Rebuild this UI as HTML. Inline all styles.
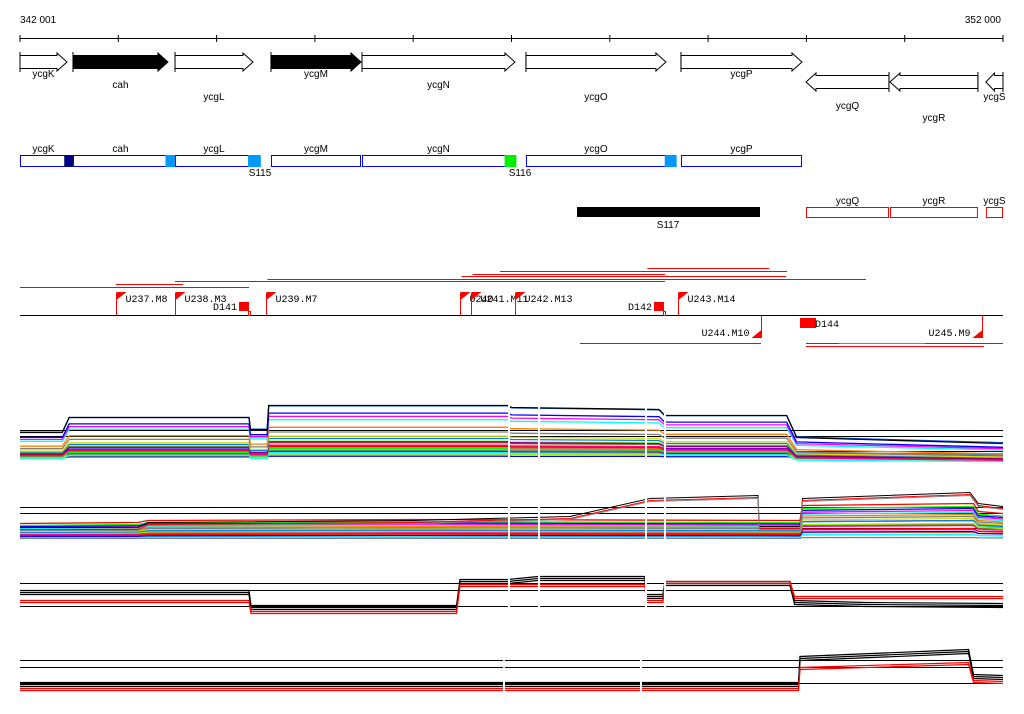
<!DOCTYPE html>
<html><head><meta charset="utf-8"><style>
html,body{margin:0;padding:0;background:#fff;width:1024px;height:714px;overflow:hidden}
svg{display:block;font-family:"Liberation Sans",sans-serif;font-size:10px}
</style></head><body>
<svg id="c" width="1024" height="714" viewBox="0 0 1024 714">
<g id="ruler">
<line x1="20" y1="38.5" x2="1003" y2="38.5" stroke="#000"/>
<text x="20" y="23">342 001</text>
<text x="1001" y="23" text-anchor="end">352 000</text>
</g>
<g id="genes"></g>
<g id="boxes"></g>
<g id="segs"></g>
<g id="flags"></g>
<g id="tracks"></g>
</svg>
<script>
const START = 342001, SPAN = 10000;
const geneNames = ['ycgK','cah','ycgL','ycgM','ycgN','ycgO','ycgP','ycgQ','ycgR','ycgS'];
const geneStarts = [0,539,1577,2553,3479,5147,6724,7996,8850,9826];
const geneEnds = [478,1505,2370,3469,5035,6571,7955,8840,9745,10000];
const geneStrand = [1,1,1,1,1,1,1,-1,-1,-1];
const geneFilled = [0,1,0,1,0,0,0,0,0,0];
const geneLabelY = [77,88,100,77,88,100,77,109,121,100];
const blueBoxes = [[0,478],[539,1505],[1577,2370],[2553,3469],[3479,5035],[5147,6571],[6724,7955]];
const redBoxes = [[7996,8840],[8850,9745],[9826,10000]];
const markers = [[450,539,'#000080'],[1480,1577,'#0099ff'],[2320,2450,'#0099ff'],[4930,5050,'#00ee00'],[6560,6680,'#0099ff']];
const segLines = [[6382,7620,268],[4883,7803,271],[4604,6561,274],[4492,7793,276],[2517,8606,279],[1577,6561,281],[977,1659,284],[0,2330,287],[5696,7537,343],[7996,10000,343],[7996,9806,346]];
const fwdFlags = [[977,'U237.M8'],[1577,'U238.M3'],[2503,'U239.M7'],[4476,'U240'],[4588,'U241.M11'],[5035,'U242.M13'],[6693,'U243.M14']];
const revFlags = [[7539,'U244.M10'],[9785,'U245.M9']];
const t1Top = [[0,19],[430,19],[500,34],[2330,34],[2345,22],[2515,22],[2530,46],[4960,46],[5000,44],[6500,42],[6560,36],[7800,36],[7900,14],[10000,8]];
const t1Factors = [1,0.97,0.9,0.85,0.8,0.7,0.62,0.55,0.5,0.45,0.42,0.4,0.36,0.33,0.3,0.28,0.26,0.24,0.22,0.2,0.18,0.16,0.15,0.14,0.12,0.1,0.08,0.06,0.05,0.03];
const t1Offsets = [0,1,-3,-4,-5,-8,-9,-10,-10,-11,-9,-12,-8,-10,-11,-7,-9,-12,-6,-8,-10,-4,-7,-9,-5,-6,-3,-5,-7,-4];
const t2Top = [[0,1],[1200,1],[1300,6],[4000,8],[5595,12],[6409,30],[7508,33],[7520,2],[7935,2],[7960,30],[9664,36],[9750,25],[10000,22]];
const t2Bulk = [[0,0],[1200,1],[1300,3],[4000,4],[7935,3],[7960,18],[9700,20],[9750,12],[10000,10]];
const t2Factors = [1,0.95,0.9,0.85,0.8,0.75,0.7,0.65,0.6,0.55,0.5,0.45,0.4,0.35,0.3,0.25,0.2,0.15,0.1,0.05];
const t2Offsets = [-1,-3,-4,-5,-6,-7,-8,-9,-10,-9,-11,-12,-10,-13,-8,-14,-11,-15,-12,-16];
const t3Black = [[0,13],[2330,13],[2350,-2],[4440,-2],[4476,24],[4964,24],[5270,27],[6358,27],[6370,9],[6540,9],[6561,22],[7833,22],[7880,3],[8600,1],[10000,0]];
const t3Red = [[0,5],[2330,5],[2350,-6],[4440,-6],[4476,21],[6358,21],[6370,5],[6540,5],[6561,24],[7833,24],[7880,9],[10000,9]];
const t4Black = [[0,-2],[7920,-2],[7935,24],[9400,30],[9650,31],[9700,6],[10000,5]];
const t4Red = [[0,-6],[7920,-6],[7935,15],[9650,20],[9700,2],[10000,1]];
const trackBases = [451,528,606,683];
const trackRefs = [[0,15,21],[0,15,21],[0,16,23],[0,16,23]];
const colors = ['#ff0000','#00ff00','#0000ff','#ff00ff','#00ffff','#ff8000','#808080','#dddd00','#0080ff','#800080','#80ff00','#ff0080','#996633'];

const NS='http://www.w3.org/2000/svg';
const x = p => 20 + p/SPAN*983;
function mk(parent,tag,attrs,text){const e=document.createElementNS(NS,tag);for(const k in attrs)e.setAttribute(k,attrs[k]);if(text!==undefined)e.textContent=text;parent.appendChild(e);return e;}
const $=id=>document.getElementById(id);

// ruler ticks
for(let i=0;i<=10;i++){const t=mk($('ruler'),'line',{x1:x(i*1000),x2:x(i*1000),y1:35,y2:42,stroke:'#000'});

}

// genes
geneNames.forEach((n,i)=>{
  const a=x(geneStarts[i]), b=x(geneEnds[i]); const fwd=geneStrand[i]>0;
  const yc = fwd?62:82, h=6.5, hh=9, hl=Math.min(10,(b-a)/2);
  let pts;
  if(fwd) pts=[[a,yc-h],[b-hl,yc-h],[b-hl,yc-hh],[b,yc],[b-hl,yc+hh],[b-hl,yc+h],[a,yc+h]];
  else pts=[[b,yc-h],[a+hl,yc-h],[a+hl,yc-hh],[a,yc],[a+hl,yc+hh],[a+hl,yc+h],[b,yc+h]];
  const g=mk($('genes'),'polygon',{points:pts.map(p=>p.join(',')).join(' '),fill:geneFilled[i]?'#000':'#fff',stroke:'#000'});
  
  
  const bx = fwd?a:b;
  mk($('genes'),'line',{x1:bx,x2:bx,y1:yc-hh-1,y2:yc+hh+1,stroke:'#000'});
  const t=mk($('genes'),'text',{x:(a+b)/2,y:geneLabelY[i],'text-anchor':'middle'},n);
  
  
});

// blue boxes
blueBoxes.forEach((bb,i)=>{
  const r=mk($('boxes'),'rect',{x:x(bb[0])+0.5,y:155.5,width:x(bb[1])-x(bb[0])-1,height:11,fill:'#fff',stroke:'#0000ee'});
  
  
  const t=mk($('boxes'),'text',{x:(x(bb[0])+x(bb[1]))/2,y:152,'text-anchor':'middle'},geneNames[i]);
  
  
});
markers.forEach(m=>{const r=mk($('boxes'),'rect',{x:x(m[0]),y:155,width:x(m[1])-x(m[0]),height:12,fill:m[2]});

});
[['S115',260],['S116',520]].forEach(s=>{const t=mk($('boxes'),'text',{x:s[1],y:176,'text-anchor':'middle'},s[0]);

});
const s117=mk($('boxes'),'rect',{x:577,y:207,width:183,height:10,fill:'#000'});


const s117t=mk($('boxes'),'text',{x:668,y:228,'text-anchor':'middle'},'S117');


redBoxes.forEach((bb,i)=>{
  const r=mk($('boxes'),'rect',{x:x(bb[0])+0.5,y:207.5,width:x(bb[1])-x(bb[0])-1,height:10,fill:'#fff',stroke:'#ee0000'});
  
  
  const t=mk($('boxes'),'text',{x:(x(bb[0])+x(bb[1]))/2,y:204,'text-anchor':'middle'},geneNames[7+i]);
  
  
});

// segment lines
segLines.forEach(s=>{const l=mk($('segs'),'line',{x1:x(s[0]),x2:x(s[1]),y1:s[2]+0.5,y2:s[2]+0.5,stroke:'#ff0000'});

});
mk($('segs'),'line',{x1:839,x2:925,y1:343.5,y2:343.5,stroke:'#00dd00'});

// flags
const base=mk($('flags'),'line',{x1:20,x2:1003,y1:315.5,y2:315.5,stroke:'#000'});


fwdFlags.forEach(f=>{const px=Math.round(x(f[0]))+0.5;
  mk($('flags'),'line',{x1:px,x2:px,y1:293,y2:315,stroke:'#f00'});
  const p=mk($('flags'),'polygon',{points:`${px},292 ${px+10},292 ${px},300`,fill:'#f00'});
  
  
  const t=mk($('flags'),'text',{x:px+9,y:302,'font-family':'Liberation Mono, monospace'},f[1]);
  
  
});
revFlags.forEach(f=>{const px=Math.round(x(f[0]))+0.5;
  mk($('flags'),'line',{x1:px,x2:px,y1:316,y2:338,stroke:'#f00'});
  const p=mk($('flags'),'polygon',{points:`${px},338 ${px-10},338 ${px},330`,fill:'#f00'});
  
  
  const t=mk($('flags'),'text',{x:px-12,y:336,'text-anchor':'end','font-family':'Liberation Mono, monospace'},f[1]);
  
  
});
[['D141',239],['D142',654]].forEach(d=>{
  const r=mk($('flags'),'rect',{x:d[1],y:302,width:10,height:9,fill:'#f00'});
  
  
  mk($('flags'),'rect',{x:d[1]+9.5,y:311.5,width:2,height:4,fill:'none',stroke:'#f00'});
  const t=mk($('flags'),'text',{x:d[1]-2,y:310,'text-anchor':'end','font-family':'Liberation Mono, monospace'},d[0]);
  
  
});
const d143=mk($('flags'),'rect',{x:800,y:318,width:16,height:10,fill:'#f00'});


const d143t=mk($('flags'),'text',{x:815,y:327,'font-family':'Liberation Mono, monospace'},'D144');



// tracks
const yT=(k,v)=>trackBases[k]-v;
function path(k,pts,f,o){return pts.map((p,i)=>(i?'L':'M')+x(p[0]).toFixed(1)+' '+(yT(k,p[1]*f+o)+0.5).toFixed(1)).join(' ');}
const T=$('tracks');
trackRefs.forEach((refs,k)=>refs.forEach(v=>{const l=mk(T,'line',{x1:20,x2:1003,y1:yT(k,v)+0.5,y2:yT(k,v)+0.5,stroke:'#000'});

}));
// track1
for(let i=t1Factors.length-1;i>=0;i--){
  const col=i<2?(i?'#0066ff':'#000'):colors[i%colors.length];
  const p=mk(T,'path',{d:path(0,t1Top,t1Factors[i],t1Offsets[i]),fill:'none',stroke:col,'stroke-width':1.3});
  
  
}
// track2
for(let i=t2Factors.length-1;i>=0;i--){
  const p=mk(T,'path',{d:path(1,t2Bulk,t2Factors[i],t2Offsets[i]+6),fill:'none',stroke:colors[i%colors.length],'stroke-width':1.3});
  
  
}
[[0,'#000'],[-2,'#f00'],[-3,'#888']].forEach(s=>{const p=mk(T,'path',{d:path(1,t2Top,1,s[0]),fill:'none',stroke:s[1]});

});
// track3 & 4
[[2,t3Black,t3Red],[3,t4Black,t4Red]].forEach(([k,bl,rd])=>{
  [0,2,4].forEach(o=>{const p=mk(T,'path',{d:path(k,bl,1,o-1),fill:'none',stroke:'#000','stroke-width':1.2});
  
  });
  [0,2].forEach(o=>{const p=mk(T,'path',{d:path(k,rd,1,o-1),fill:'none',stroke:'#f00','stroke-width':1.2});
  
  });
});
// gaps
[508,538,645,664].forEach(g=>[[395,465],[480,550],[570,620]].forEach(r=>mk(T,'rect',{x:g,y:r[0],width:2,height:r[1]-r[0],fill:'#fff'})));
[503,640].forEach(g=>mk(T,'rect',{x:g,y:645,width:2,height:55,fill:'#fff'}));
</script>
</body></html>
